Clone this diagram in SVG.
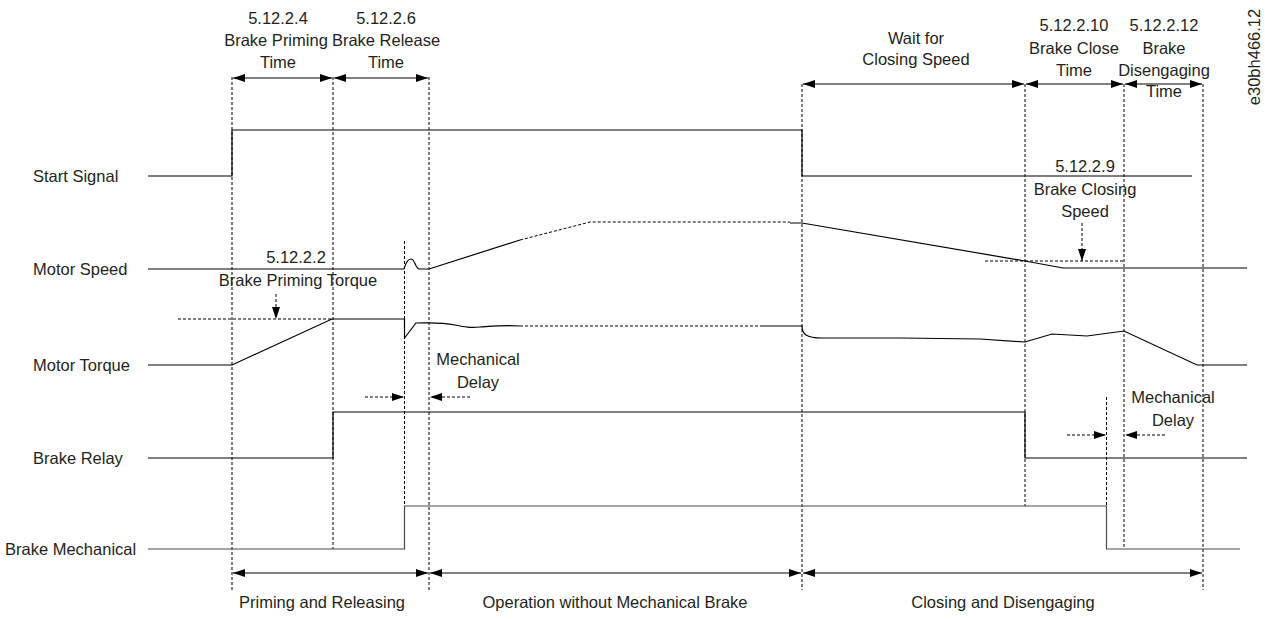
<svg xmlns="http://www.w3.org/2000/svg" width="1265" height="619" viewBox="0 0 1265 619">
<style>
text{font-family:"Liberation Sans",Arial,sans-serif;font-size:16.5px;fill:#231f20}
.m{text-anchor:middle}
.sig{fill:none;stroke:#000;stroke-width:1.2;stroke-linejoin:miter}
.dot{fill:none;stroke:#000;stroke-width:1;stroke-dasharray:3,2}
.vd{fill:none;stroke:#000;stroke-width:1;stroke-dasharray:3,2}
.arr{fill:none;stroke:#000;stroke-width:1.2}
</style>
<defs>
<marker id="ah" viewBox="0 0 12 8" refX="12" refY="4" markerWidth="12" markerHeight="8" markerUnits="userSpaceOnUse" orient="auto-start-reverse">
<path d="M0,0 L12,4 L0,8 z" fill="#000"/>
</marker>
</defs>
<rect width="1265" height="619" fill="#fff"/>

<g id="guides">
<line class="vd" x1="232" y1="77" x2="232" y2="590"/>
<line class="vd" x1="333" y1="77" x2="333" y2="549"/>
<line class="vd" x1="429" y1="77" x2="429" y2="590"/>
<line class="vd" x1="404.5" y1="241" x2="404.5" y2="506"/>
<line class="vd" x1="802" y1="84" x2="802" y2="590"/>
<line class="vd" x1="1025" y1="84" x2="1025" y2="506"/>
<line class="vd" x1="1124" y1="84" x2="1124" y2="549"/>
<line class="vd" x1="1203" y1="84" x2="1203" y2="590"/>
<line class="vd" x1="1106.5" y1="397" x2="1106.5" y2="549"/>
</g>

<g id="start-signal">
<text x="33" y="182">Start Signal</text>
<path class="sig" d="M148,176 H232 V130 H802 V176 H1192"/>
</g>

<g id="motor-speed">
<text x="33" y="275">Motor Speed</text>
<path class="sig" d="M148,269 H404 C406,262 408,259 411,259 C415,259 415,268 419,269 H429 L520,240"/>
<path class="dot" d="M520,240 L590,222 H790"/>
<path class="sig" d="M790,223 H802 L1025,261 L1063,268 H1247"/>
</g>

<g id="motor-torque">
<text x="33" y="371">Motor Torque</text>
<path class="sig" d="M148,365 H232 L332,319 H404.5 V338 L416,323 C430,323 440,322 455,325 C465,327 470,328 480,327 C495,326 505,325 520,326"/>
<path class="dot" d="M520,326 H762"/>
<path class="sig" d="M762,326 H802 C802,334 806,338 822,338 L900,338 L980,339 L1025,342 L1052,334 L1087,336 L1124,331 L1197,365 H1247"/>
</g>

<g id="brake-relay">
<text x="33" y="464">Brake Relay</text>
<path class="sig" d="M148,458 H333 V412 H1025 V458 H1247"/>
</g>

<g id="brake-mechanical">
<text x="5" y="555">Brake Mechanical</text>
<path class="sig" d="M148,549 H404.5 V506 H1106.5 V549 H1240" style="stroke:#4a4a4a"/>
</g>

<g id="brake-priming-torque">
<line class="dot" x1="178" y1="319" x2="332" y2="319"/>
<text class="m" x="296" y="263">5.12.2.2</text>
<text class="m" x="298" y="286">Brake Priming Torque</text>
</g>

<g id="brake-closing-speed">
<line class="dot" x1="985" y1="261" x2="1124" y2="261"/>
<text class="m" x="1085" y="172">5.12.2.9</text>
<text class="m" x="1085" y="195">Brake Closing</text>
<text class="m" x="1085" y="217">Speed</text>
</g>

<g id="top-labels">
<text class="m" x="278" y="24">5.12.2.4</text>
<text class="m" x="276" y="46">Brake Priming</text>
<text class="m" x="278" y="68">Time</text>
<text class="m" x="386" y="24">5.12.2.6</text>
<text class="m" x="386" y="46">Brake Release</text>
<text class="m" x="386" y="68">Time</text>
<text class="m" x="916" y="44">Wait for</text>
<text class="m" x="916" y="65">Closing Speed</text>
<text class="m" x="1074" y="31">5.12.2.10</text>
<text class="m" x="1074" y="54">Brake Close</text>
<text class="m" x="1074" y="76">Time</text>
<text class="m" x="1164" y="31">5.12.2.12</text>
<text class="m" x="1164" y="54">Brake</text>
<text class="m" x="1164" y="76">Disengaging</text>
<text class="m" x="1164" y="97">Time</text>
<text class="m" transform="translate(1260,57) rotate(-90)">e30bh466.12</text>
</g>

<g id="mechanical-delay-labels">
<text class="m" x="478" y="365">Mechanical</text>
<text class="m" x="478" y="388">Delay</text>
<text class="m" x="1173" y="403">Mechanical</text>
<text class="m" x="1173" y="426">Delay</text>
</g>

<g id="phase-labels">
<text class="m" x="322" y="608">Priming and Releasing</text>
<text class="m" x="615" y="608">Operation without Mechanical Brake</text>
<text class="m" x="1003" y="608">Closing and Disengaging</text>
</g>

<g id="connectors">
<line class="arr" x1="233" y1="78" x2="332" y2="78" marker-start="url(#ah)" marker-end="url(#ah)"/>
<line class="arr" x1="334" y1="78" x2="428" y2="78" marker-start="url(#ah)" marker-end="url(#ah)"/>
<line class="arr" x1="803" y1="84" x2="1024" y2="84" marker-start="url(#ah)" marker-end="url(#ah)"/>
<line class="arr" x1="1026" y1="84" x2="1123" y2="84" marker-start="url(#ah)" marker-end="url(#ah)"/>
<line class="arr" x1="1125" y1="84" x2="1202" y2="84" marker-start="url(#ah)" marker-end="url(#ah)"/>
<line class="arr" x1="233" y1="573" x2="428" y2="573" marker-start="url(#ah)" marker-end="url(#ah)"/>
<line class="arr" x1="430" y1="573" x2="801" y2="573" marker-start="url(#ah)" marker-end="url(#ah)"/>
<line class="arr" x1="803" y1="573" x2="1202" y2="573" marker-start="url(#ah)" marker-end="url(#ah)"/>
<line class="dot" x1="276" y1="294" x2="276" y2="319" marker-end="url(#ah)"/>
<line class="dot" x1="1082" y1="223" x2="1082" y2="261" marker-end="url(#ah)"/>
<line class="dot" x1="365" y1="397" x2="404" y2="397" marker-end="url(#ah)"/>
<line class="dot" x1="470" y1="397" x2="430" y2="397" marker-end="url(#ah)"/>
<line class="dot" x1="1067" y1="435" x2="1106" y2="435" marker-end="url(#ah)"/>
<line class="dot" x1="1165" y1="435" x2="1125" y2="435" marker-end="url(#ah)"/>
</g>
</svg>
